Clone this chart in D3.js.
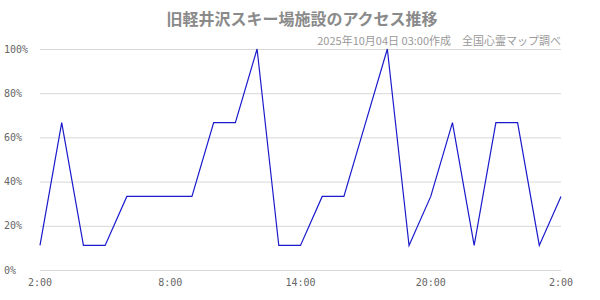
<!DOCTYPE html>
<html>
<head>
<meta charset="utf-8">
<script src="https://cdn.jsdelivr.net/npm/d3@7"></script>
<style>
  body { margin: 0; background: #fff; }
</style>
</head>
<body>
<div id="chart"></div>
<script>
(function() {
    const width = 600;
    const height = 300;

    // hourly share of access, 2:00 to 2:00 next day
    const hours = d3.range(25);
    const values = [11.1, 66.7, 11.1, 11.1, 33.3, 33.3, 33.3, 33.3, 66.7, 66.7, 100, 11.1, 11.1,
                    33.3, 33.3, 66.7, 100, 11.1, 33.3, 66.7, 11.1, 66.7, 66.7, 11.1, 33.3];
    const yTicks = [0, 20, 40, 60, 80, 100];
    const xTicks = [0, 6, 12, 18, 24];
    const xTickLabels = ["2:00", "8:00", "14:00", "20:00", "2:00"];

    const title = "旧軽井沢スキー場施設のアクセス推移";
    const subtitle = "2025年10月04日 03:00作成　全国心霊マップ調べ";

    const left = 40, right = 561, top = 49, bottom = 270;

    const x = d3.scaleLinear().domain([0, 24]).range([left, right]);
    const y = d3.scaleLinear().domain([0, 100]).range([bottom, top]);

    const svg = d3.select("#chart").append("svg")
        .attr("width", width)
        .attr("height", height);

    // gridlines
    svg.append("g")
        .selectAll("line")
        .data(yTicks)
        .enter()
        .append("line")
        .attr("x1", left)
        .attr("x2", right)
        .attr("y1", d => y(d) + 0.5)
        .attr("y2", d => y(d) + 0.5)
        .attr("stroke", "#d8d8d8")
        .attr("stroke-width", 1);

    // y labels
    svg.append("g")
        .selectAll("text")
        .data(yTicks)
        .enter()
        .append("text")
        .attr("x", 4)
        .attr("y", d => y(d))
        .attr("dy", "0.35em")
        .attr("font-family", "DejaVu Sans Mono, monospace")
        .attr("font-size", 10)
        .attr("fill", "#666")
        .text(d => d + "%");

    // x labels
    svg.append("g")
        .selectAll("text")
        .data(xTicks)
        .enter()
        .append("text")
        .attr("x", d => x(d))
        .attr("y", 282)
        .attr("dy", "0.35em")
        .attr("text-anchor", "middle")
        .attr("font-family", "DejaVu Sans Mono, monospace")
        .attr("font-size", 10)
        .attr("fill", "#666")
        .text((d, i) => xTickLabels[i]);

    const line = d3.line()
        .x((d, i) => x(hours[i]))
        .y(d => y(d));

    svg.append("path")
        .datum(values)
        .attr("d", line)
        .attr("fill", "none")
        .attr("stroke", "#1a1acc")
        .attr("stroke-width", 1.2);

    svg.append("text")
        .attr("x", 302)
        .attr("y", 19)
        .attr("dy", "0.35em")
        .attr("text-anchor", "middle")
        .attr("font-family", "Noto Sans CJK JP")
        .attr("font-size", 16)
        .attr("font-weight", "bold")
        .attr("fill", "#8a8a8a")
        .text(title);

    svg.append("text")
        .attr("x", 561)
        .attr("y", 41)
        .attr("dy", "0.35em")
        .attr("text-anchor", "end")
        .attr("font-family", "Noto Sans CJK JP")
        .attr("font-size", 11)
        .attr("fill", "#999")
        .text(subtitle);
})()
</script>
</body>
</html>
